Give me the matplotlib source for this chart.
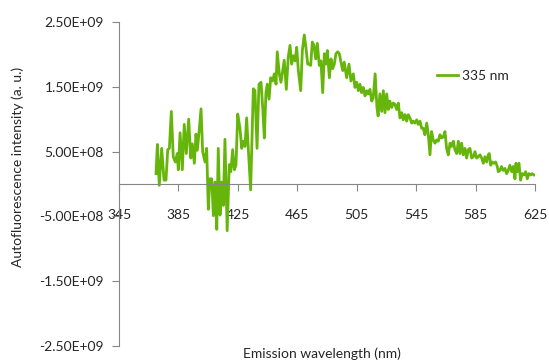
import numpy as np
import matplotlib
matplotlib.use("Agg")
import matplotlib.pyplot as plt

# emission wavelength (nm) and intensity (x 1e7 a.u.)
wavelength = [
    369.9, 370.8, 372.1, 373.7, 375.3, 376.6, 377.8, 378.9, 380.2, 381.5,
    382.9, 384.2, 384.9, 386.1, 387.6, 388.9, 390.3, 391.9, 393.3, 394.3,
    395.7, 396.8, 397.7, 398.8, 400.2, 401.3, 402.9, 404.0, 405.1, 406.2,
    407.4, 408.5, 409.6, 410.8, 411.8, 413.0, 414.1, 415.2, 416.3, 417.8,
    419.2, 420.2, 421.5, 422.6, 423.7, 424.9, 426.4, 427.6, 428.7, 429.8,
    430.9, 432.0, 433.6, 435.4, 436.5, 437.9, 439.2, 440.6, 441.7, 442.8,
    443.9, 444.8, 446.0, 447.1, 448.4, 449.5, 450.7, 451.5, 452.9, 454.0,
    455.2, 456.2, 457.6, 458.9, 460.1, 461.2, 462.3, 463.5, 464.6, 465.7,
    467.3, 468.4, 469.7, 470.8, 472.0, 472.9, 474.0, 475.1, 476.2, 477.4,
    478.5, 479.8, 480.9, 482.1, 483.2, 484.3, 485.2, 486.6, 487.7, 488.8,
    489.9, 491.0, 492.2, 493.3, 494.4, 495.6, 496.6, 498.2, 499.8, 501.1,
    502.7, 503.8, 505.0, 506.1, 507.2, 508.3, 509.4, 510.6, 511.7, 512.8,
    513.9, 515.1, 516.1, 517.4, 518.6, 519.4, 520.6, 521.8, 522.9, 524.0,
    525.2, 526.2, 527.3, 528.5, 529.6, 530.7, 531.9, 533.0, 534.1, 535.3,
    536.3, 537.5, 538.6, 539.7, 540.8, 542.0, 543.1, 544.2, 545.4, 546.4,
    547.6, 548.7, 549.8, 550.9, 552.1, 553.2, 554.3, 555.4, 556.5, 557.7,
    558.8, 559.9, 561.0, 562.2, 563.3, 564.4, 565.5, 566.6, 567.8, 568.9,
    570.0, 571.1, 572.3, 573.4, 574.5, 575.6, 576.7, 577.9, 579.0, 580.1,
    581.2, 582.4, 583.5, 584.6, 585.7, 586.8, 588.0, 589.1, 590.2, 591.3,
    592.5, 593.5, 594.2, 595.2, 596.2, 597.4, 598.5, 599.6, 600.3, 601.4,
    602.5, 603.6, 604.8, 605.9, 607.0, 608.1, 609.3, 610.4, 611.5, 612.2,
    613.1, 614.2, 615.3, 616.4, 617.6, 618.7, 619.8, 620.9, 622.1, 623.1,
    624.3,
]
intensity_e7 = [
    16, 61, -2, 55, 6, 6, 53, 55, 112, 42,
    34, 47, 22, 79, 22, 92, 47, 100, 40, 62,
    32, 77, 52, 79, 116, 50, 34, 55, -39, 8,
    8, -49, 3, -70, 55, -48, 3, -33, 69, -72,
    30, 19, 53, 22, 29, 108, 86, 55, 66, 58,
    102, 55, -9, 147, 144, 55, 154, 157, 118, 71,
    141, 154, 131, 164, 159, 170, 154, 204, 170, 157,
    175, 191, 146, 196, 214, 185, 198, 190, 211, 175,
    144, 206, 230, 211, 185, 185, 183, 219, 214, 193,
    217, 183, 190, 141, 201, 185, 206, 164, 193, 178,
    185, 201, 204, 201, 188, 175, 188, 164, 185, 159,
    170, 149, 157, 144, 154, 141, 149, 136, 144, 139,
    146, 128, 133, 170, 118, 105, 139, 112, 144, 110,
    139, 115, 128, 118, 125, 123, 115, 125, 102, 110,
    99, 107, 97, 107, 102, 94, 97, 94, 99, 92,
    97, 86, 86, 76, 94, 76, 45, 81, 68, 63,
    68, 66, 76, 71, 73, 81, 55, 45, 63, 58,
    66, 53, 47, 66, 47, 63, 45, 55, 40, 53,
    55, 40, 42, 50, 40, 42, 45, 40, 32, 42,
    34, 45, 47, 29, 34, 32, 34, 27, 19, 21,
    27, 21, 24, 16, 21, 29, 19, 27, 8, 32,
    19, 32, 6, 16, 14, 19, 8, 16, 14, 16,
    14,
]
series_label = "335 nm"
x_ticks = [345, 385, 425, 465, 505, 545, 585, 625]
y_ticks = [-2.5e9, -1.5e9, -5e8, 5e8, 1.5e9, 2.5e9]

plt.rcParams['font.family'] = ['Lato', 'DejaVu Sans']

fig = plt.figure(figsize=(5.49, 3.63), dpi=100)
ax = fig.add_axes([0.2168, 0.0468, 0.7577, 0.8926])

y = np.array(intensity_e7) * 1e7
ax.plot(wavelength, y, color='#66b50a', lw=2.0, label=series_label)

ax.set_xlim(345, 625)
ax.set_ylim(-2.5e9, 2.5e9)
ax.set_xticks(x_ticks)
ax.set_yticks(y_ticks)
ax.set_yticklabels(["%.2E" % v for v in y_ticks])

axis_gray = '#868686'
for s in ['top', 'right']:
    ax.spines[s].set_visible(False)
ax.spines['bottom'].set_position(('data', 0))
ax.spines['bottom'].set_color(axis_gray)
ax.spines['left'].set_color(axis_gray)
ax.tick_params(axis='both', direction='out', length=5, color=axis_gray,
               labelsize=10, labelcolor='#262626')
ax.tick_params(axis='x', pad=13)
ax.tick_params(axis='y', pad=6)

fig.text(0.033, 0.54, "Autofluorescence intensity (a. u.)", rotation=90,
         ha='center', va='center', fontsize=10, color='#262626')
fig.text(0.587, 0.025, "Emission wavelength (nm)", ha='center', va='center',
         fontsize=10, color='#262626')

ax.legend(loc='upper left', bbox_to_anchor=(0.735, 0.89), frameon=False,
          fontsize=10, handlelength=1.5, handletextpad=0.3, labelcolor='#262626')

fig.savefig("out.png", dpi=100)
